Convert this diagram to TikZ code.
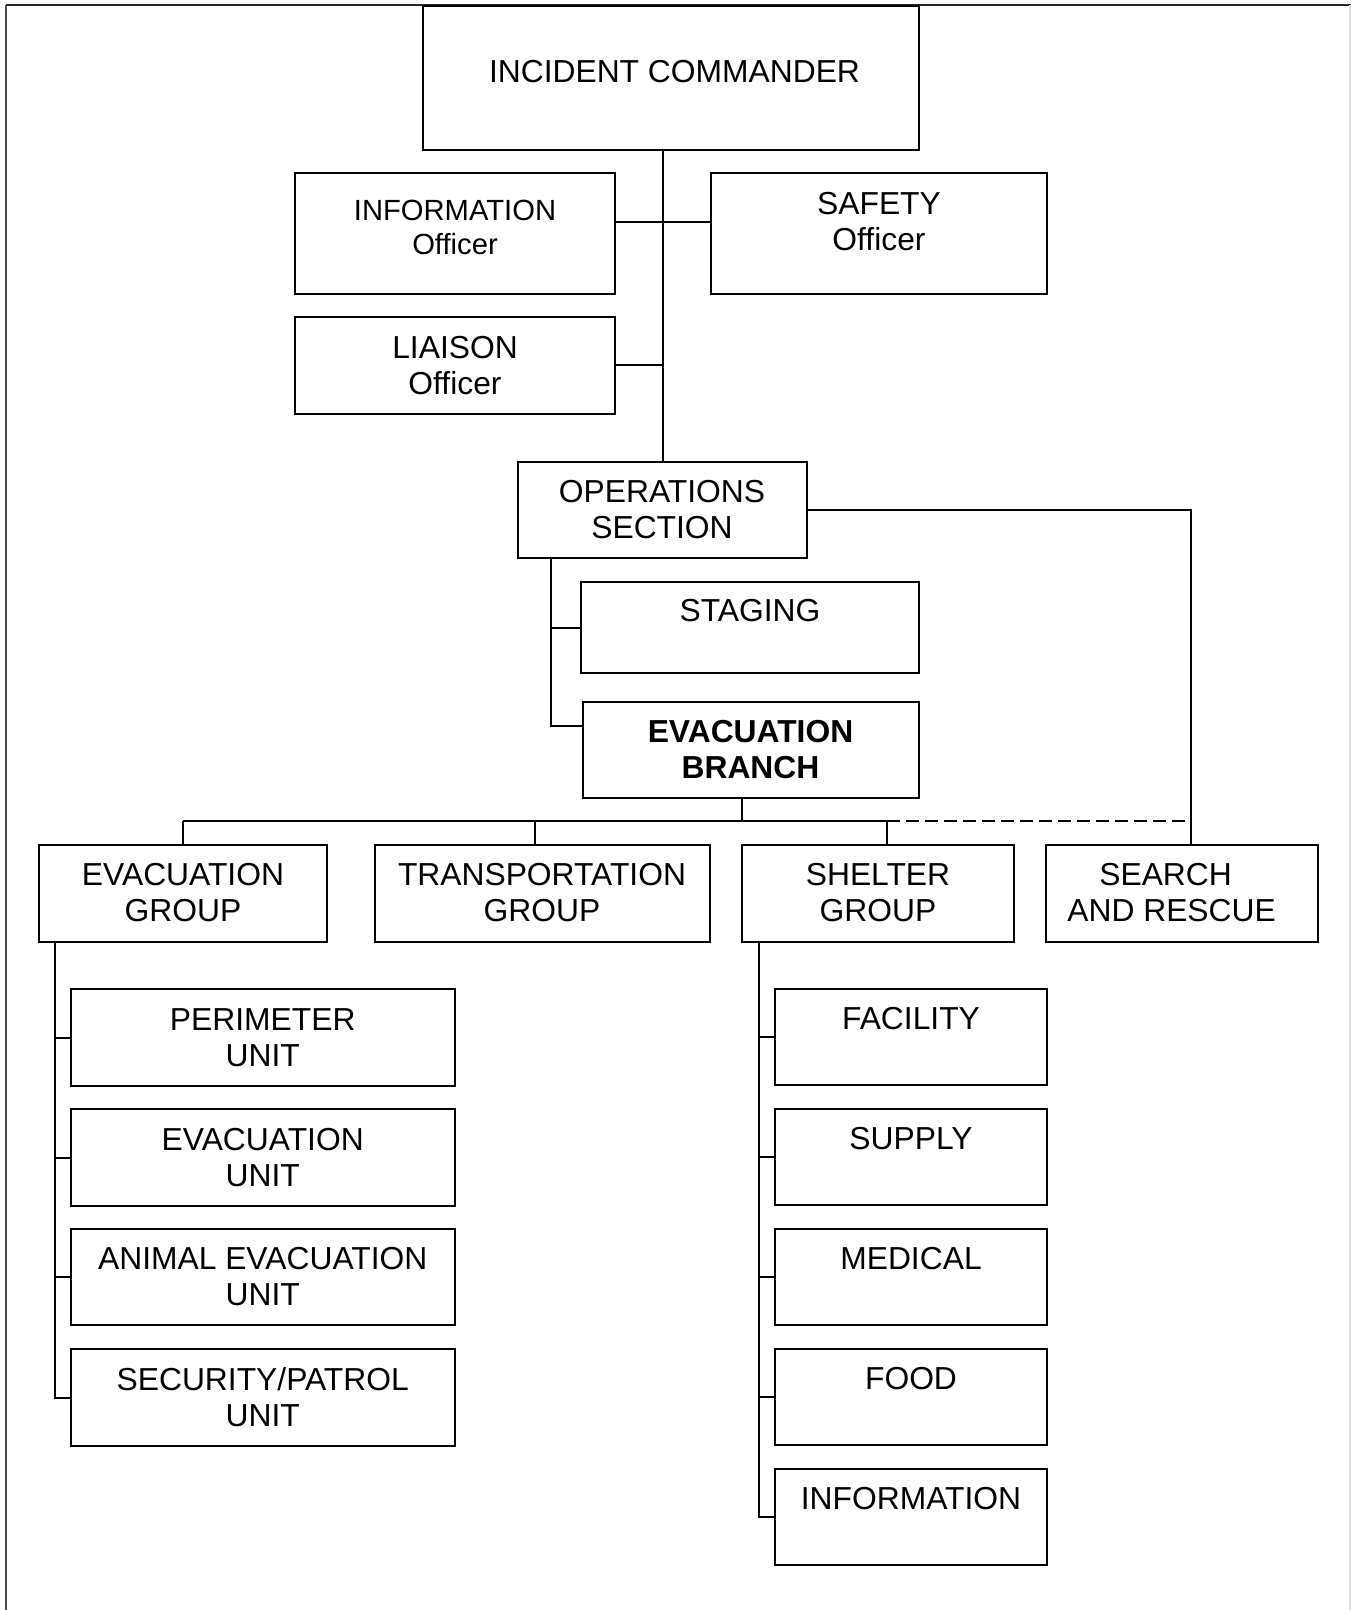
\documentclass[tikz,border=0pt]{standalone}
\usepackage{fontspec}
\setmainfont{Liberation Sans}
\usetikzlibrary{fit}
\begin{document}
\begin{tikzpicture}[x=0.5pt,y=-0.5pt,
  box/.style={draw, line width=1pt, inner sep=0pt, fit={#1}},
  txt/.style={font=\fontsize{15.9pt}{18pt}\selectfont, align=center, inner sep=0pt},
  smalltxt/.style={font=\fontsize{14.6pt}{16.9pt}\selectfont, align=center, inner sep=0pt},
  conn/.style={draw, line width=1pt},
  dashconn/.style={draw, line width=1pt, dash pattern=on 6.5pt off 3pt},
  frame/.style={draw=black!70, line width=1pt}]
\useasboundingbox (0,0) rectangle (1351,1610);
\draw[frame] (6,1610) -- (6,5);
\draw[frame, draw=black!85] (6,5) -- (1351,5);
\draw[frame, draw=black!12, line width=0.6pt] (1350,5) -- (1350,1610);

% boxes
\node[box={(423,6)(919,150)}] (ic) {};
\node[box={(295,173)(615,294)}] (info) {};
\node[box={(711,173)(1047,294)}] (safety) {};
\node[box={(295,317)(615,414)}] (liaison) {};
\node[box={(518,462)(807,558)}] (ops) {};
\node[box={(581,582)(919,673)}] (staging) {};
\node[box={(583,702)(919,798)}] (branch) {};
\node[box={(39,845)(327,942)}] (evg) {};
\node[box={(375,845)(710,942)}] (trg) {};
\node[box={(742,845)(1014,942)}] (shg) {};
\node[box={(1046,845)(1318,942)}] (sar) {};
\node[box={(70.5,989)(455,1086)}] (per) {};
\node[box={(70.5,1109)(455,1206)}] (evu) {};
\node[box={(70.5,1229)(455,1325)}] (ani) {};
\node[box={(70.5,1349)(455,1446)}] (sec) {};
\node[box={(775,989)(1047,1085)}] (fac) {};
\node[box={(775,1109)(1047,1205)}] (sup) {};
\node[box={(775,1229)(1047,1325)}] (med) {};
\node[box={(775,1349)(1047,1445)}] (food) {};
\node[box={(775,1469)(1047,1565)}] (inf2) {};

% texts
\node[txt] (ic-t) at (674.5,72) {INCIDENT COMMANDER};
\node[smalltxt] (info-t) at (455,227.4) {INFORMATION\\Officer};
\node[txt] (safety-t) at (879,221.8) {SAFETY\\Officer};
\node[txt] (liaison-t) at (455,365.5) {LIAISON\\Officer};
\node[txt] (ops-t) at (662,509.5) {OPERATIONS\\SECTION};
\node[txt] (staging-t) at (750,610.7) {STAGING};
\node[txt, font=\fontsize{15.9pt}{18pt}\selectfont\bfseries] (branch-t) at (750.5,749.5) {EVACUATION\\BRANCH};
\node[txt] (evg-t) at (183,892.8) {EVACUATION\\GROUP};
\node[txt] (trg-t) at (542,892.8) {TRANSPORTATION\\GROUP};
\node[txt] (shg-t) at (878,893) {SHELTER\\GROUP};
\node[txt] (sar-t) at (1171.6,893) {SEARCH\hspace*{6pt}\\AND RESCUE};
\node[txt] (per-t) at (262.7,1037.5) {PERIMETER\\UNIT};
\node[txt] (evu-t) at (262.7,1157.3) {EVACUATION\\UNIT};
\node[txt] (ani-t) at (262.7,1277) {ANIMAL EVACUATION\\UNIT};
\node[txt] (sec-t) at (262.7,1397) {SECURITY/PATROL\\UNIT};
\node[txt] (fac-t) at (911,1018.4) {FACILITY};
\node[txt] (sup-t) at (911,1138.5) {SUPPLY};
\node[txt] (med-t) at (911,1258.6) {MEDICAL};
\node[txt] (food-t) at (911,1378.7) {FOOD};
\node[txt] (inf2-t) at (911,1498.8) {INFORMATION};

% connectors
\coordinate (jinfo) at (662.5,221.7);
\draw[conn] (ops.north) -- (ops.north |- ic.south);
\draw[conn] (info.east |- jinfo) -- (safety.west |- jinfo);
\draw[conn] (liaison.east) -- (liaison.east -| ops.north);

\coordinate (sarj) at (1190.7,845);
\draw[conn] (ops.east) -| (sarj);

\coordinate (opsl) at (551,558);
\coordinate (jbr) at (583,725.7);
\draw[conn] (opsl) |- (jbr);
\draw[conn] (opsl |- staging.west) -- (staging.west);

\coordinate (bus1) at (742.4,821);
\coordinate (busS) at (887,821);
\coordinate (trd) at (534.8,821);
\draw[conn] (bus1 |- branch.south) -- (bus1);
\draw[conn] (evg.north |- bus1) -- (busS);
\draw[dashconn] (busS) -- (sarj |- busS);
\draw[conn] (evg.north) -- (evg.north |- bus1);
\draw[conn] (trd) -- (trd |- trg.north);
\draw[conn] (busS) -- (busS |- shg.north);

\coordinate (evt) at (54.9,942);
\draw[conn] (evt) |- (sec.west);
\foreach \u in {per,evu,ani} \draw[conn] (evt |- \u.west) -- (\u.west);

\coordinate (sht) at (759,942);
\draw[conn] (sht) |- (inf2.west);
\foreach \u in {fac,sup,med,food} \draw[conn] (sht |- \u.west) -- (\u.west);
\end{tikzpicture}
\end{document}
